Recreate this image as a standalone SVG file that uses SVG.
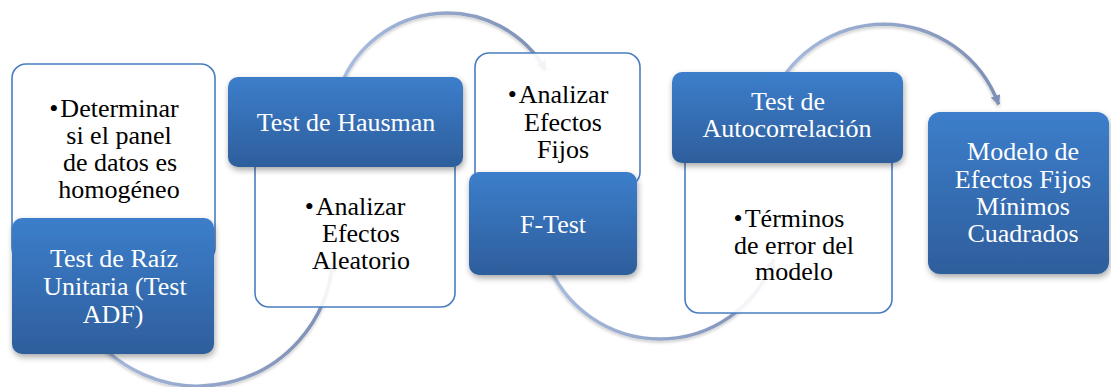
<svg xmlns="http://www.w3.org/2000/svg" width="1111" height="387" viewBox="0 0 1111 387">
<defs>
<linearGradient id="blueG" x1="0" y1="0" x2="0" y2="1">
<stop offset="0" stop-color="#3c7ecb"/>
<stop offset="1" stop-color="#2e5e9c"/>
</linearGradient>
<linearGradient id="arcG" x1="0" y1="0" x2="1" y2="0">
<stop offset="0" stop-color="#a9bde0"/>
<stop offset="1" stop-color="#7d8fb4"/>
</linearGradient>
<filter id="sh" x="-10%" y="-10%" width="125%" height="130%">
<feDropShadow dx="1" dy="3" stdDeviation="3" flood-color="#000" flood-opacity="0.35"/>
</filter>
<filter id="ash" x="-10%" y="-10%" width="120%" height="125%">
<feDropShadow dx="0" dy="2" stdDeviation="1.5" flood-color="#000" flood-opacity="0.2"/>
</filter>
<marker id="arr" markerUnits="userSpaceOnUse" markerWidth="12" markerHeight="12" refX="9" refY="5" orient="auto">
<path d="M0,0 L10,5 L0,10 z" fill="#7d8fb4"/>
</marker>
</defs>
<style>
.arc{fill:none;stroke:url(#arcG);stroke-width:3.5;filter:url(#ash)}
.white{fill:#ffffff;fill-opacity:0.9;stroke:#4a7dc0;stroke-width:1.6}
.blue{fill:url(#blueG);filter:url(#sh)}
.tw{font-family:"Liberation Serif","Times New Roman",serif;font-size:26px;fill:#ffffff;text-anchor:middle}
.tb{font-family:"Liberation Serif","Times New Roman",serif;font-size:26px;fill:#000000;text-anchor:middle}
</style>
<rect width="1111" height="387" fill="#ffffff"/>
<g id="connectors">
<path class="arc" d="M81.1,318.5 A135,135 0 0 0 332.5,262.8" marker-end="url(#arr)"/>
<path class="arc" d="M339.9,88 A114,114 0 0 1 545.7,70" marker-end="url(#arr)"/>
<path class="arc" d="M546.3,259.4 A121,121 0 0 0 773.7,259.4" marker-end="url(#arr)"/>
<path class="arc" d="M769.4,104.3 A122,122 0 0 1 998.6,104.3" marker-end="url(#arr)"/>
</g>
<g id="node1">
<rect class="white" x="12" y="64" width="203" height="198" rx="14"/>
<text class="tb" x="114" y="116.5"><tspan>•</tspan><tspan dx="2">Determinar</tspan></text>
<text class="tb" x="119" y="144">si el panel</text>
<text class="tb" x="120" y="171">de datos es</text>
<text class="tb" x="119" y="198">homogéneo</text>
<rect class="blue" x="12" y="218" width="202" height="136" rx="10"/>
<text class="tw" x="114" y="267">Test de Raíz</text>
<text class="tw" x="115" y="295">Unitaria (Test</text>
<text class="tw" x="113" y="323">ADF)</text>
</g>
<g id="node2">
<rect class="white" x="255" y="140" width="200" height="167" rx="14"/>
<rect class="blue" x="228" y="77" width="235" height="90" rx="10"/>
<text class="tw" x="346" y="131">Test de Hausman</text>
<text class="tb" x="355" y="215"><tspan>•</tspan><tspan dx="2">Analizar</tspan></text>
<text class="tb" x="361" y="242">Efectos</text>
<text class="tb" x="361" y="269">Aleatorio</text>
</g>
<g id="node3">
<rect class="white" x="475" y="53" width="165" height="133" rx="14"/>
<text class="tb" x="558" y="103"><tspan>•</tspan><tspan dx="2">Analizar</tspan></text>
<text class="tb" x="563" y="130.5">Efectos</text>
<text class="tb" x="563" y="158">Fijos</text>
<rect class="blue" x="469" y="172" width="168" height="103" rx="10"/>
<text class="tw" x="553" y="233">F-Test</text>
</g>
<g id="node4">
<rect class="white" x="685" y="140" width="207" height="173" rx="14"/>
<rect class="blue" x="672" y="72" width="231" height="91" rx="10"/>
<text class="tw" x="788" y="110">Test de</text>
<text class="tw" x="787" y="137">Autocorrelación</text>
<text class="tb" x="789" y="227"><tspan>•</tspan><tspan dx="2">Términos</tspan></text>
<text class="tb" x="794" y="253.5">de error del</text>
<text class="tb" x="794" y="280">modelo</text>
</g>
<g id="node5">
<rect class="blue" x="928" y="112" width="181" height="162" rx="12"/>
<text class="tw" x="1023" y="160">Modelo de</text>
<text class="tw" x="1023" y="187.5">Efectos Fijos</text>
<text class="tw" x="1023" y="214.5">Mínimos</text>
<text class="tw" x="1023" y="241.5">Cuadrados</text>
</g>
</svg>
